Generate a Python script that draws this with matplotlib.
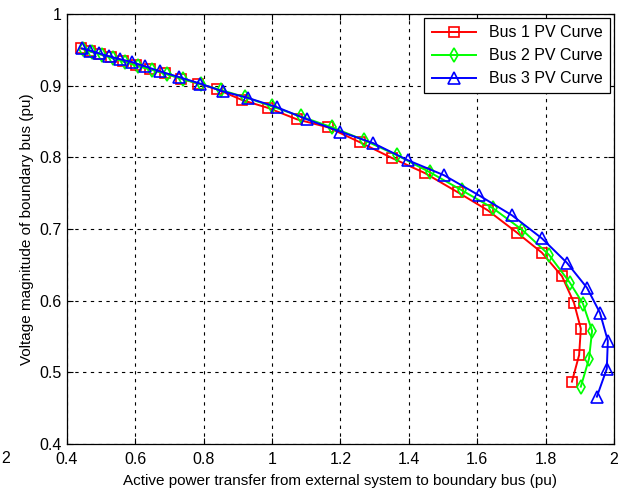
import matplotlib
matplotlib.use("Agg")
import matplotlib.pyplot as plt
from matplotlib.ticker import FuncFormatter

bus1_p = [0.441, 0.467, 0.497, 0.529, 0.564, 0.602, 0.643, 0.687, 0.733, 0.783,
          0.839, 0.912, 0.988, 1.073, 1.163, 1.257, 1.351, 1.447, 1.544, 1.631,
          1.716, 1.789, 1.848, 1.883, 1.903, 1.898, 1.877]
bus1_v = [0.952, 0.948, 0.944, 0.940, 0.934, 0.929, 0.923, 0.917, 0.910, 0.903,
          0.895, 0.880, 0.869, 0.853, 0.842, 0.821, 0.799, 0.778, 0.751, 0.726,
          0.695, 0.667, 0.634, 0.597, 0.561, 0.524, 0.487]

bus2_p = [0.447, 0.473, 0.502, 0.535, 0.570, 0.608, 0.649, 0.692, 0.739, 0.792,
          0.850, 0.921, 1.000, 1.084, 1.175, 1.269, 1.365, 1.462, 1.555, 1.646,
          1.731, 1.810, 1.871, 1.909, 1.936, 1.927, 1.903]
bus2_v = [0.951, 0.947, 0.943, 0.938, 0.933, 0.927, 0.922, 0.916, 0.909, 0.902,
          0.894, 0.884, 0.871, 0.857, 0.842, 0.824, 0.803, 0.779, 0.754, 0.729,
          0.699, 0.664, 0.625, 0.596, 0.558, 0.519, 0.480]

bus3_p = [0.444, 0.467, 0.494, 0.523, 0.555, 0.590, 0.628, 0.672, 0.728, 0.789,
          0.856, 0.929, 1.014, 1.102, 1.198, 1.295, 1.397, 1.503, 1.605, 1.702,
          1.789, 1.862, 1.921, 1.959, 1.982, 1.979, 1.950]
bus3_v = [0.952, 0.949, 0.945, 0.941, 0.937, 0.933, 0.927, 0.920, 0.912, 0.903,
          0.892, 0.883, 0.870, 0.853, 0.836, 0.820, 0.796, 0.775, 0.747, 0.719,
          0.687, 0.653, 0.618, 0.583, 0.544, 0.505, 0.466]

labels = ["Bus 1 PV Curve", "Bus 2 PV Curve", "Bus 3 PV Curve"]
x_ticks = [0.4, 0.6, 0.8, 1.0, 1.2, 1.4, 1.6, 1.8, 2.0]
y_ticks = [0.4, 0.5, 0.6, 0.7, 0.8, 0.9, 1.0]

# -------------------------------- plotting ---------------------------------
plt.rcParams["font.family"] = ["Liberation Sans", "DejaVu Sans"]

fig = plt.figure(figsize=(6.18, 4.92), dpi=100)
ax = fig.add_axes([0.1084, 0.0976, 0.8851, 0.8739])

ax.plot(bus1_p, bus1_v, color=(1, 0, 0), lw=1.4, marker="s", ms=7,
        mfc="none", mew=1.2, label=labels[0])
ax.plot(bus2_p, bus2_v, color=(0, 1, 0), lw=1.4, marker="d", ms=7,
        mfc="none", mew=1.2, label=labels[1])
ax.plot(bus3_p, bus3_v, color=(0, 0, 1), lw=1.4, marker="^", ms=8,
        mfc="none", mew=1.2, label=labels[2])

ax.set_xlim(0.4, 2.0)
ax.set_ylim(0.4, 1.0)
ax.set_xticks(x_ticks)
ax.set_yticks(y_ticks)
fmt = FuncFormatter(lambda v, pos: f"{v:g}")
ax.xaxis.set_major_formatter(fmt)
ax.yaxis.set_major_formatter(fmt)
ax.tick_params(direction="in", top=True, right=True, length=4,
               labelsize=11.5, colors="black")
ax.tick_params(axis="x", pad=6)
ax.tick_params(axis="y", pad=4)
ax.grid(True, color="black", linestyle=(0, (3, 4)), linewidth=0.8)
for s in ax.spines.values():
    s.set_linewidth(0.9)

ax.set_xlabel("Active power transfer from external system to boundary bus (pu)",
              fontsize=11, labelpad=5)
ax.set_ylabel("Voltage magnitude of boundary bus (pu)", fontsize=11, labelpad=4)

leg = ax.legend(loc="upper right", fontsize=11.5, fancybox=False, framealpha=1,
                edgecolor="black", borderaxespad=0.25, handlelength=2.8,
                labelspacing=0.5, borderpad=0.45)
leg.get_frame().set_linewidth(0.9)

# stray label at the left edge of the original figure
fig.text(0.002, 0.069, "2", fontsize=11.5, ha="left", va="center")

fig.savefig("out.png", dpi=100, facecolor="white")
